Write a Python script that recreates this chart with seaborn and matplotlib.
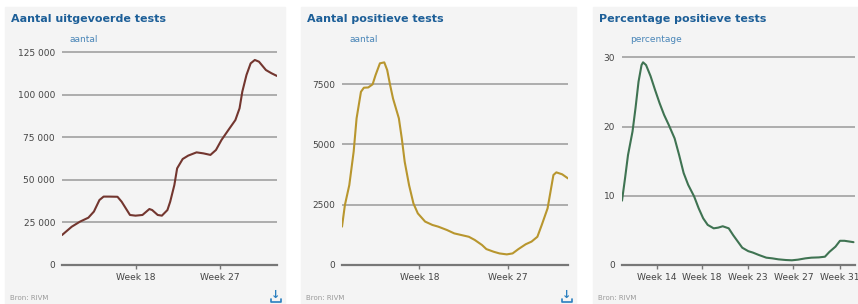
import pandas as pd
import seaborn as sns
import matplotlib.pyplot as plt
from matplotlib.patches import Rectangle
from matplotlib.lines import Line2D
from matplotlib.ticker import FuncFormatter

# aantal uitgevoerde tests
dates_tests = ['2020-03-09', '2020-03-16', '2020-03-22', '2020-03-28', '2020-04-01', '2020-04-05',
               '2020-04-08', '2020-04-12', '2020-04-18', '2020-04-21', '2020-04-24', '2020-04-27',
               '2020-05-01', '2020-05-06', '2020-05-11', '2020-05-13', '2020-05-17', '2020-05-20',
               '2020-05-24', '2020-05-26', '2020-05-29', '2020-05-31', '2020-06-04', '2020-06-08',
               '2020-06-14', '2020-06-19', '2020-06-24', '2020-06-28', '2020-07-02', '2020-07-07',
               '2020-07-12', '2020-07-15', '2020-07-17', '2020-07-20', '2020-07-23', '2020-07-26',
               '2020-07-29', '2020-08-03', '2020-08-07', '2020-08-11']
tests = [17600, 22500, 25500, 27800, 31400, 38200,
         40200, 40200, 40100, 37200, 33300, 29400,
         29000, 29400, 32900, 32300, 29400, 29000,
         32300, 37200, 47000, 56800, 62300, 64300,
         66200, 65600, 64700, 67600, 73500, 79400,
         85200, 92100, 101900, 111700, 118500, 120500,
         119500, 114600, 112700, 111100]

# aantal positieve tests
dates_pos = ['2020-03-09', '2020-03-11', '2020-03-14', '2020-03-17', '2020-03-19', '2020-03-22',
             '2020-03-24', '2020-03-27', '2020-03-30', '2020-04-01', '2020-04-04', '2020-04-07',
             '2020-04-09', '2020-04-11', '2020-04-13', '2020-04-17', '2020-04-19', '2020-04-21',
             '2020-04-24', '2020-04-27', '2020-04-30', '2020-05-05', '2020-05-10', '2020-05-14',
             '2020-05-20', '2020-05-25', '2020-05-30', '2020-06-04', '2020-06-08', '2020-06-13',
             '2020-06-16', '2020-06-21', '2020-06-25', '2020-06-30', '2020-07-04', '2020-07-08',
             '2020-07-13', '2020-07-17', '2020-07-21', '2020-07-24', '2020-07-28', '2020-07-30',
             '2020-08-01', '2020-08-03', '2020-08-07', '2020-08-11']
positive = [1590, 2490, 3310, 4700, 6080, 7180,
            7350, 7360, 7490, 7870, 8360, 8400,
            8080, 7460, 6900, 6080, 5250, 4280,
            3310, 2550, 2140, 1800, 1660, 1590,
            1450, 1310, 1240, 1170, 1040, 830,
            660, 550, 480, 440, 480, 660,
            860, 970, 1170, 1660, 2350, 3040,
            3730, 3840, 3760, 3590]

# percentage positieve tests
dates_pct = ['2020-03-09', '2020-03-11', '2020-03-13', '2020-03-16', '2020-03-18', '2020-03-20',
             '2020-03-22', '2020-03-23', '2020-03-25', '2020-03-28', '2020-03-31', '2020-04-03',
             '2020-04-06', '2020-04-09', '2020-04-13', '2020-04-16', '2020-04-19', '2020-04-22',
             '2020-04-26', '2020-04-29', '2020-05-02', '2020-05-05', '2020-05-09', '2020-05-12',
             '2020-05-15', '2020-05-19', '2020-05-22', '2020-05-25', '2020-05-28', '2020-06-01',
             '2020-06-04', '2020-06-08', '2020-06-13', '2020-06-17', '2020-06-21', '2020-06-26',
             '2020-06-30', '2020-07-04', '2020-07-09', '2020-07-13', '2020-07-18', '2020-07-22',
             '2020-07-25', '2020-07-29', '2020-08-01', '2020-08-04', '2020-08-07', '2020-08-10']
percentage = [9.3, 12.5, 15.9, 19.3, 22.7, 26.5,
              28.9, 29.3, 28.9, 27.3, 25.3, 23.4,
              21.7, 20.3, 18.3, 15.9, 13.3, 11.6,
              9.9, 8.2, 6.75, 5.8, 5.3, 5.4,
              5.6, 5.3, 4.3, 3.4, 2.5, 2.0,
              1.8, 1.45, 1.06, 0.96, 0.82, 0.72,
              0.68, 0.77, 0.96, 1.06, 1.1, 1.2,
              1.9, 2.65, 3.5, 3.5, 3.4, 3.3]

titles = ['Aantal uitgevoerde tests', 'Aantal positieve tests', 'Percentage positieve tests']
units = ['aantal', 'aantal', 'percentage']
colors = ['#73362f', '#b8962e', '#3f7352']
yticks = [[0, 25000, 50000, 75000, 100000, 125000], [0, 2500, 5000, 7500], [0, 10, 20, 30]]
ylims = [129300, 9120, 31.8]
tick_dates = [['2020-05-01', '2020-07-01'], ['2020-05-01', '2020-07-01'],
              ['2020-04-01', '2020-05-01', '2020-06-01', '2020-07-01', '2020-08-01']]
tick_labels = [['Week 18', 'Week 27'], ['Week 18', 'Week 27'],
               ['Week 14', 'Week 18', 'Week 23', 'Week 27', 'Week 31']]

frames = [
    pd.DataFrame({'datum': pd.to_datetime(dates_tests), 'waarde': tests}),
    pd.DataFrame({'datum': pd.to_datetime(dates_pos), 'waarde': positive}),
    pd.DataFrame({'datum': pd.to_datetime(dates_pct), 'waarde': percentage}),
]

sns.set_theme(style='white')
plt.rcParams['font.family'] = ['DejaVu Sans']

W, H = 858, 304
fig = plt.figure(figsize=(W / 100, H / 100), dpi=100)
fig.patch.set_facecolor('white')

panel_box = [(5, 285), (301, 576), (593, 870)]   # panel left/right in px
axes_box = [(62, 277), (342, 568), (622, 855)]  # plot area left/right in px
bg = '#f4f4f4'
title_col = '#1d5f98'
icon_col = '#2a7fc0'

for i in range(3):
    px0, px1 = panel_box[i]
    fig.patches.append(Rectangle((px0 / W, 0), (px1 - px0) / W, 1 - 7 / H,
                                 transform=fig.transFigure, color=bg, zorder=-5))
    ax0, ax1 = axes_box[i]
    ax = fig.add_axes([ax0 / W, (H - 265) / H, (ax1 - ax0) / W, (265 - 45) / H])
    ax.set_facecolor(bg)
    sns.lineplot(data=frames[i], x='datum', y='waarde', ax=ax, color=colors[i], lw=1.5)

    ax.set_xlim(pd.Timestamp('2020-03-09'), pd.Timestamp('2020-08-11'))
    ax.set_ylim(0, ylims[i])
    ax.set_yticks(yticks[i])
    if i == 0:
        ax.yaxis.set_major_formatter(FuncFormatter(lambda v, p: f'{v:,.0f}'.replace(',', ' ')))
    else:
        ax.yaxis.set_major_formatter(FuncFormatter(lambda v, p: f'{v:g}'))
    ax.set_xticks(pd.to_datetime(tick_dates[i]))
    ax.set_xticklabels(tick_labels[i])
    ax.set_xlabel('')
    ax.set_ylabel('')

    ax.grid(axis='y', color='#a0a0a0', lw=1.2)
    ax.grid(axis='x', visible=False)
    for s in ['top', 'right', 'left']:
        ax.spines[s].set_visible(False)
    ax.spines['bottom'].set_color('#777777')
    ax.spines['bottom'].set_linewidth(1.6)
    ax.tick_params(axis='y', length=0, pad=5, labelsize=6.5, labelcolor='#444444')
    ax.tick_params(axis='x', length=3, width=1, color='#777777', pad=3,
                   labelsize=6.6, labelcolor='#444444', bottom=True)

    fig.text((px0 + 6) / W, 1 - 19 / H, titles[i], color=title_col, fontsize=8,
             fontweight='bold', va='center', ha='left')
    fig.text((ax0 + 8) / W, 1 - 40 / H, units[i], color='#4a86b8', fontsize=6.5,
             va='center', ha='left')
    fig.text((px0 + 5) / W, 1 - 298 / H, 'Bron: RIVM', color='#9a9a9a', fontsize=5,
             va='center', ha='left')
    if i < 2:
        # download icon: arrow glyph over a small tray
        cx = px1 - 9
        fig.text(cx / W, 1 - 295 / H, '↓', color=icon_col, fontsize=8, fontweight='bold',
                 va='center', ha='center')
        fig.add_artist(Line2D([(cx - 5) / W, (cx - 5) / W, (cx + 5) / W, (cx + 5) / W],
                              [1 - 299 / H, 1 - 302 / H, 1 - 302 / H, 1 - 299 / H],
                              color=icon_col, lw=1.2))

fig.savefig('out.png', dpi=100)
